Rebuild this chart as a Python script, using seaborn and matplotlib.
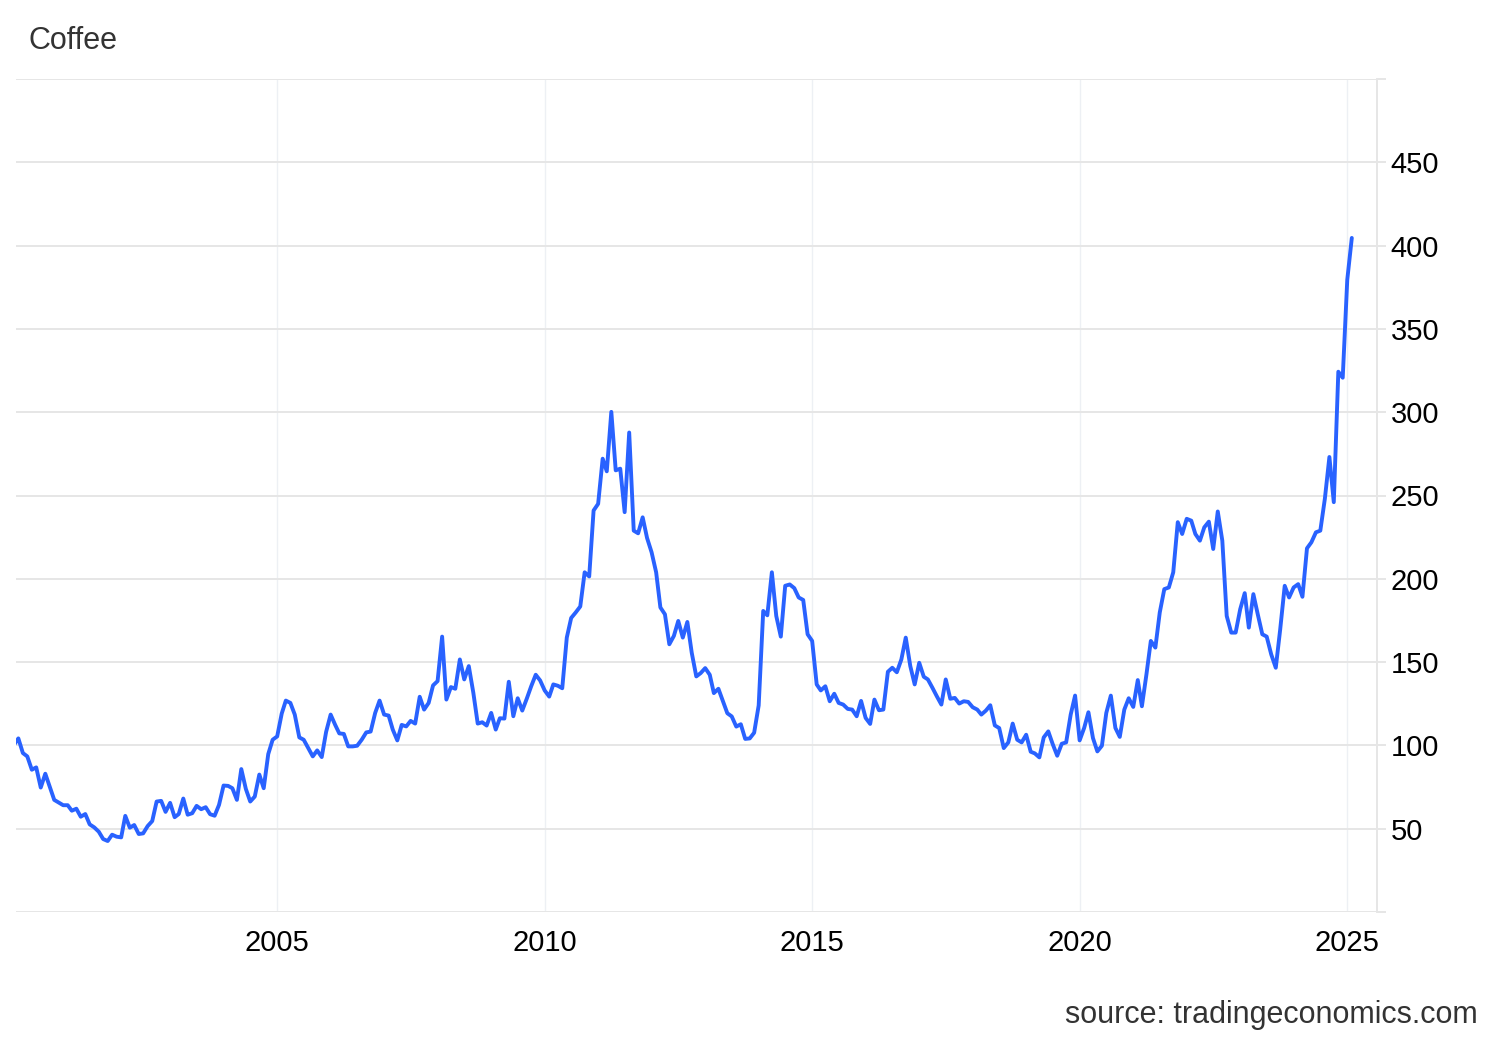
import pandas as pd
import matplotlib.pyplot as plt
import matplotlib.dates as mdates
import seaborn as sns

# Monthly coffee price (USd/lb), Feb 2000 -> Feb 2025
first_month = '2000-02-01'
price = [
    100.4, 104.2, 95.4, 93.4, 85.4, 86.8, 74.7, 83.0, 75.3, 67.3,
    65.7, 64.1, 64.1, 60.8, 62.0, 57.2, 58.8, 52.6, 50.8, 48.2,
    43.8, 42.6, 46.4, 45.2, 44.8, 57.7, 50.6, 52.2, 46.8, 47.2,
    51.6, 54.6, 66.3, 66.7, 60.1, 65.5, 56.9, 58.8, 68.1, 58.4,
    59.3, 63.7, 61.7, 62.9, 58.7, 57.8, 64.3, 75.9, 75.7, 74.3,
    67.3, 85.8, 73.9, 66.3, 69.3, 82.5, 74.3, 94.8, 103.4, 105.4,
    119.1, 126.9, 125.5, 118.5, 104.8, 103.4, 98.4, 93.4, 97.0, 93.0,
    108.1, 118.5, 112.3, 107.2, 106.9, 99.4, 99.4, 99.8,
    103.4, 107.8, 108.3, 119.5, 126.9, 118.5, 117.9, 109.5, 103.0, 112.3,
    111.4, 114.7, 113.1, 129.2, 121.5, 125.5, 136.0, 138.6, 165.3, 127.5,
    135.0, 134.0, 151.6, 139.6, 147.6, 131.6, 113.1, 113.9, 111.9, 119.5,
    109.5, 116.3, 116.1, 138.2, 117.5, 128.3, 120.9, 128.1, 135.5, 142.4,
    139.0, 133.0, 129.3, 136.6, 135.8, 134.3, 164.7, 176.5, 179.8, 183.4,
    203.9, 201.4, 241.0, 245.0, 272.1, 264.5, 300.2, 265.1, 266.1, 240.0,
    287.8, 228.9, 227.3, 236.9, 224.5, 215.9, 203.9, 182.8, 178.7, 160.7,
    165.7, 174.7, 164.7, 174.1, 155.6, 141.4, 143.4, 146.4, 142.4, 131.4,
    134.0, 126.8, 119.3, 117.4, 111.3, 112.7, 103.9, 104.2, 107.6, 124.0,
    180.7, 178.1, 203.9, 177.7,
    165.3, 195.8, 196.6, 194.4, 188.8, 187.3, 166.7, 162.7, 136.6, 133.0,
    135.5, 126.5, 131.0, 125.5, 124.5, 121.9, 121.5, 117.5, 126.7, 116.5,
    112.9, 127.5, 121.1, 121.5, 144.2, 146.6, 143.9, 151.6, 164.7, 147.6,
    136.6, 149.6, 141.2, 139.6, 134.6, 129.5, 124.5, 139.6, 128.0, 128.5,
    125.1, 126.5, 126.1, 122.9, 121.5, 118.5, 120.9, 124.1, 112.0, 110.4,
    98.4, 101.8, 113.1, 103.4, 101.8, 106.4, 96.2, 95.2, 92.8,
    104.8, 108.4, 100.8, 93.8, 101.0, 101.8, 118.5, 129.9, 103.0, 110.5,
    119.9, 104.4, 96.4, 99.8, 119.5, 129.9, 110.5, 105.1, 121.5, 128.3,
    123.1, 139.2, 123.5, 142.6, 162.7, 158.7, 179.8, 193.8, 194.8, 203.9,
    234.0, 226.9, 236.0, 234.9, 226.9, 222.9, 230.9, 234.3, 217.9, 240.4,
    222.9,
    177.7, 167.7, 167.7, 181.7, 191.4, 170.7, 190.8, 178.7, 166.7, 165.3,
    154.6, 146.6, 169.5, 195.8, 188.8, 194.8, 196.8, 189.2, 218.3, 221.9,
    227.9, 228.9, 248.0, 273.1, 246.0, 324.3, 320.7, 379.5, 404.6,
]
y_ticks = [0, 50, 100, 150, 200, 250, 300, 350, 400, 450, 500]
y_labels = ['', '50', '100', '150', '200', '250', '300', '350', '400', '450', '']

coffee = pd.DataFrame({
    'date': pd.date_range(first_month, periods=len(price), freq='MS'),
    'price': price,
})

sns.set_style('white')
plt.rcParams['font.family'] = ['Liberation Sans', 'DejaVu Sans']

fig = plt.figure(figsize=(15, 10.4), dpi=100)
ax = fig.add_axes([16 / 1500, 1 - 912 / 1040, 1361 / 1500, 833 / 1040])

sns.lineplot(data=coffee, x='date', y='price', ax=ax, color='#2962FF', linewidth=2.8, zorder=3)

ax.set_xlim(pd.Timestamp('2000-02-14'), pd.Timestamp('2025-07-23'))
ax.set_ylim(0, 500)
ax.set_xlabel('')
ax.set_ylabel('')

ax.xaxis.set_major_locator(mdates.YearLocator(5))
ax.xaxis.set_major_formatter(mdates.DateFormatter('%Y'))
ax.set_yticks(y_ticks)
ax.set_yticklabels(y_labels)
ax.yaxis.tick_right()

ax.yaxis.grid(True, color='#e6e6e6', linewidth=1.4, zorder=0)
ax.xaxis.grid(True, color='#edf0f4', linewidth=1.0, zorder=0)
ax.set_axisbelow(True)

for side in ['top', 'left', 'bottom']:
    ax.spines[side].set_visible(False)
ax.spines['right'].set_color('#e6e6e6')
ax.spines['right'].set_linewidth(1.4)

ax.tick_params(axis='y', length=6.5, width=1.4, color='#e6e6e6', pad=3.4,
               labelsize=21, labelcolor='black')
ax.tick_params(axis='x', length=0, pad=12, labelsize=21, labelcolor='black')

fig.text(28 / 1500, 1 - 41 / 1040, 'Coffee', ha='left', va='center', fontsize=22, color='#333333')
fig.text(1478 / 1500, 1 - 1015 / 1040, 'source: tradingeconomics.com', ha='right', va='center',
         fontsize=22, color='#333333')

fig.savefig('out.png', dpi=100)
